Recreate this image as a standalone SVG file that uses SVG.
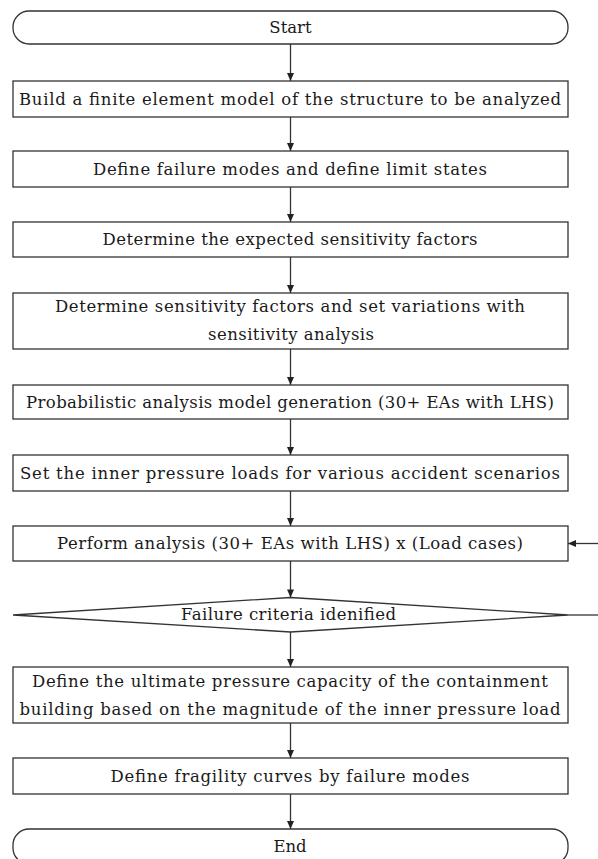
<svg xmlns="http://www.w3.org/2000/svg" width="598" height="859" viewBox="0 0 598 859">
<defs>
<style>
.b{fill:#fff;stroke:#333;stroke-width:1.3}
.t{font-family:"DejaVu Serif","Liberation Serif",serif;font-size:16.5px;fill:#1a1a1a;text-anchor:middle}
.c{fill:none;stroke:#333;stroke-width:1.3}
</style>
<marker id="ah" markerWidth="10" markerHeight="10" refX="9" refY="5" orient="auto" markerUnits="userSpaceOnUse">
<path d="M1,1.5 L9,5 L1,8.5 Z" fill="#222"/>
</marker>
</defs>
<rect width="598" height="859" fill="#fff"/>
<g id="connectors">
<line class="c" x1="290.5" y1="44" x2="290.5" y2="81" marker-end="url(#ah)"/>
<line class="c" x1="290.5" y1="117" x2="290.5" y2="151" marker-end="url(#ah)"/>
<line class="c" x1="290.5" y1="187" x2="290.5" y2="222" marker-end="url(#ah)"/>
<line class="c" x1="290.5" y1="257" x2="290.5" y2="293" marker-end="url(#ah)"/>
<line class="c" x1="290.5" y1="349" x2="290.5" y2="385" marker-end="url(#ah)"/>
<line class="c" x1="290.5" y1="419" x2="290.5" y2="455" marker-end="url(#ah)"/>
<line class="c" x1="290.5" y1="491" x2="290.5" y2="526" marker-end="url(#ah)"/>
<line class="c" x1="290.5" y1="561" x2="290.5" y2="597.5" marker-end="url(#ah)"/>
<line class="c" x1="290.5" y1="632" x2="290.5" y2="667" marker-end="url(#ah)"/>
<line class="c" x1="290.5" y1="723" x2="290.5" y2="758" marker-end="url(#ah)"/>
<line class="c" x1="290.5" y1="794" x2="290.5" y2="829" marker-end="url(#ah)"/>
<line class="c" x1="568" y1="615" x2="598" y2="615"/>
<line class="c" x1="598" y1="543.5" x2="568" y2="543.5" marker-end="url(#ah)"/>
</g>
<g id="start">
<rect class="b" x="13" y="11" width="555" height="33" rx="16" ry="16"/>
<text class="t" x="290.5" y="33">Start</text>
</g>
<g id="build">
<rect class="b" x="13" y="81" width="555" height="36"/>
<text class="t" x="290" y="105" textLength="542" lengthAdjust="spacing">Build a finite element model of the structure to be analyzed</text>
</g>
<g id="failure-modes">
<rect class="b" x="13" y="151" width="555" height="36"/>
<text class="t" x="290" y="175" textLength="394" lengthAdjust="spacing">Define failure modes and define limit states</text>
</g>
<g id="expected">
<rect class="b" x="13" y="222" width="555" height="35"/>
<text class="t" x="290" y="245" textLength="375" lengthAdjust="spacing">Determine the expected sensitivity factors</text>
</g>
<g id="sensitivity">
<rect class="b" x="13" y="293" width="555" height="56"/>
<text class="t" x="290" y="312" textLength="470" lengthAdjust="spacing">Determine sensitivity factors and set variations with</text>
<text class="t" x="291" y="340" textLength="166" lengthAdjust="spacing">sensitivity analysis</text>
</g>
<g id="probabilistic">
<rect class="b" x="13" y="385" width="555" height="34"/>
<text class="t" x="290" y="408" textLength="528" lengthAdjust="spacing">Probabilistic analysis model generation (30+ EAs with LHS)</text>
</g>
<g id="inner-pressure">
<rect class="b" x="13" y="455" width="555" height="36"/>
<text class="t" x="290" y="479" textLength="540" lengthAdjust="spacing">Set the inner pressure loads for various accident scenarios</text>
</g>
<g id="perform">
<rect class="b" x="13" y="526" width="555" height="35"/>
<text class="t" x="290" y="549" textLength="466" lengthAdjust="spacing">Perform analysis (30+ EAs with LHS) x (Load cases)</text>
</g>
<g id="criteria">
<polygon class="b" points="290.5,597.5 568,615 290.5,632 13,615"/>
<text class="t" x="288.5" y="620" textLength="215" lengthAdjust="spacing">Failure criteria idenified</text>
</g>
<g id="ultimate">
<rect class="b" x="13" y="667" width="555" height="56"/>
<text class="t" x="290" y="687" textLength="516" lengthAdjust="spacing">Define the ultimate pressure capacity of the containment</text>
<text class="t" x="290" y="715" textLength="541" lengthAdjust="spacing">building based on the magnitude of the inner pressure load</text>
</g>
<g id="fragility">
<rect class="b" x="13" y="758" width="555" height="36"/>
<text class="t" x="290" y="782" textLength="359" lengthAdjust="spacing">Define fragility curves by failure modes</text>
</g>
<g id="end">
<rect class="b" x="13" y="829" width="555" height="35" rx="16" ry="16"/>
<text class="t" x="290" y="852">End</text>
</g>
</svg>
